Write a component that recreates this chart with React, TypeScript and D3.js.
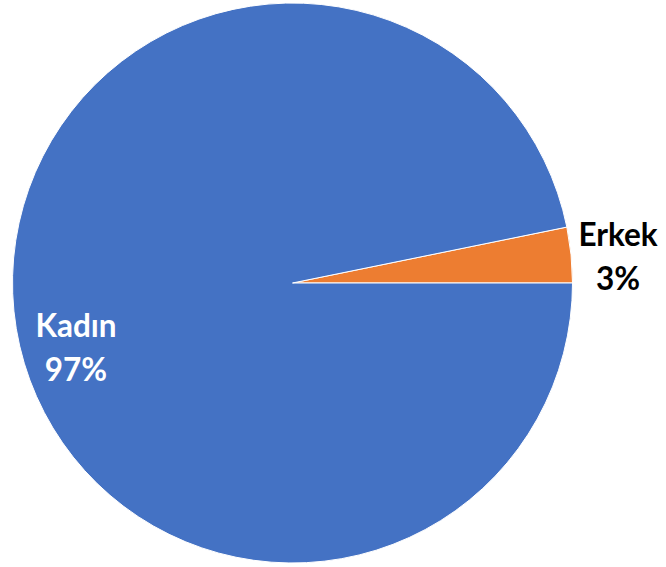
import React from "react";
import * as d3 from "d3";

const categories = ["Erkek", "Kadın"];
const values = [3.2, 96.8];
const labels = ["3%", "97%"];
const colors = ["#ED7D31", "#4472C4"];

export default function App() {
  const width = 666;
  const height = 567;
  const cx = 292.5;
  const cy = 283;
  const r = 280;
  const erkekAngle = (values[0] / d3.sum(values)) * 2 * Math.PI;
  const start = Math.PI / 2 - erkekAngle;
  const pie = d3
    .pie<number>()
    .sort(null)
    .startAngle(start)
    .endAngle(start + 2 * Math.PI)
    .value((d) => d);
  const arcs = pie(values);
  const arc = d3.arc<d3.PieArcDatum<number>>().innerRadius(0).outerRadius(r);
  const labelPos = [
    { x: 618, y1: 246, y2: 290, fill: "#000000" },
    { x: 76, y1: 337, y2: 381, fill: "#FFFFFF" },
  ];
  return (
    <svg
      width={width}
      height={height}
      style={{ position: "absolute", left: 0, top: 0 }}
    >
      <rect width={width} height={height} fill="#fff" />
      <g transform={`translate(${cx},${cy})`}>
        {arcs.map((a, i) => (
          <path
            key={categories[i]}
            d={arc(a) || ""}
            fill={colors[i]}
            stroke="#fff"
            strokeWidth={1}
          />
        ))}
      </g>
      {categories.map((c, i) => (
        <text
          key={c}
          textAnchor="middle"
          fontFamily="Lato, 'Open Sans', sans-serif"
          fontWeight="bold"
          fontSize={31.5}
          fill={labelPos[i].fill}
        >
          <tspan x={labelPos[i].x} y={labelPos[i].y1}>
            {c}
          </tspan>
          <tspan x={labelPos[i].x} y={labelPos[i].y2}>
            {labels[i]}
          </tspan>
        </text>
      ))}
    </svg>
  );
}
